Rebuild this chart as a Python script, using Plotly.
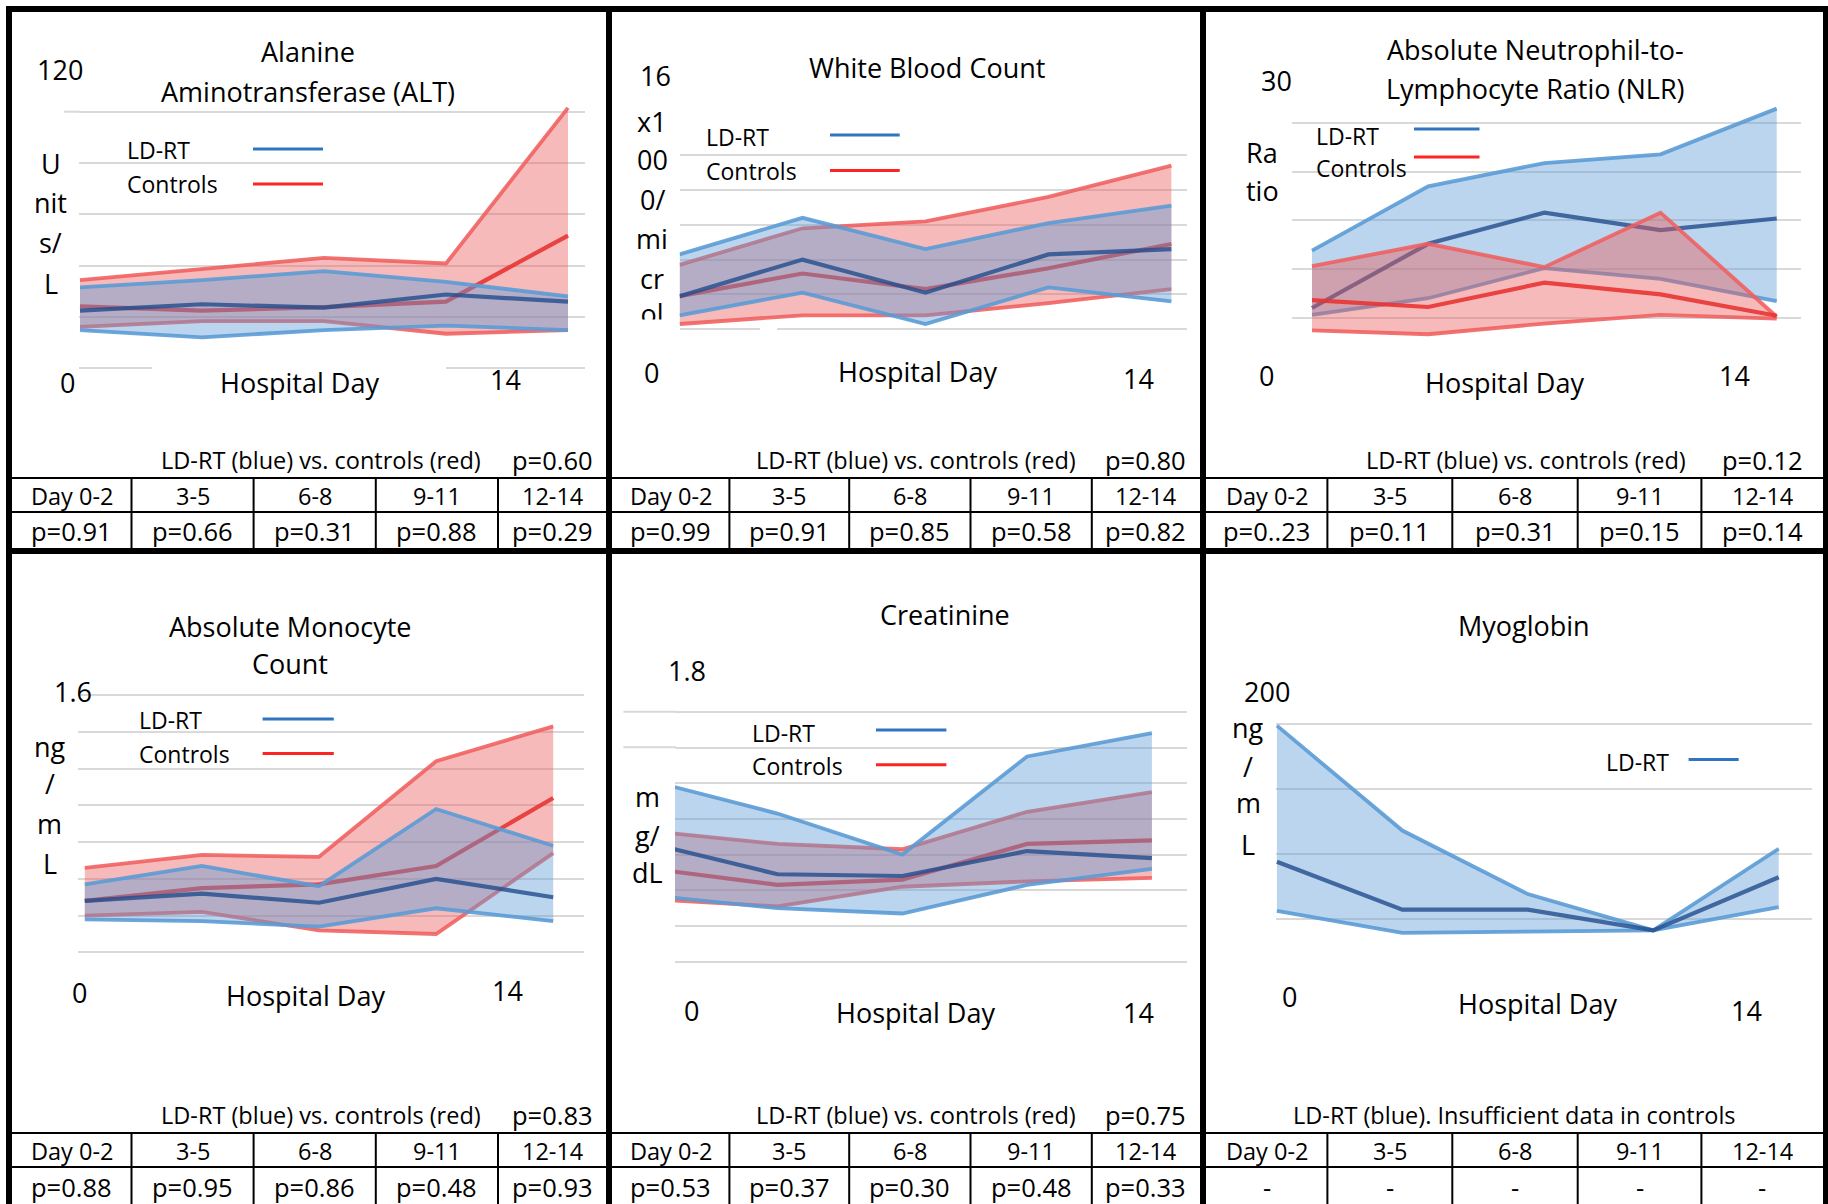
import plotly.graph_objects as go

W, H = 1828, 1204
FONT = "Open Sans"

# Hospital-day bins; summary points sit at the bin midpoints
day_bins = ["Day 0-2", "3-5", "6-8", "9-11", "12-14"]
day_mid = [1, 4, 7, 10, 13]

# Alanine aminotransferase (Units/L): lower / median / upper band per bin
alt_ldrt_lower = [14.8, 12.0, 14.8, 16.6, 14.8]
alt_ldrt_median = [22.4, 24.9, 23.6, 28.7, 25.9]
alt_ldrt_upper = [31.5, 34.3, 37.8, 33.6, 28.0]
alt_ctrl_lower = [16.1, 18.3, 18.3, 13.4, 14.8]
alt_ctrl_median = [24.1, 22.4, 23.8, 25.9, 51.7]
alt_ctrl_upper = [34.3, 38.8, 43.0, 40.8, 101.5]
alt_p_overall = "p=0.60"
alt_p_bins = ["p=0.91", "p=0.66", "p=0.31", "p=0.88", "p=0.29"]

# White blood count (x1000/microL)
wbc_ldrt_lower = [2.8, 4.1, 2.3, 4.4, 3.6]
wbc_ldrt_median = [3.9, 6.0, 4.1, 6.3, 6.6]
wbc_ldrt_upper = [6.3, 8.4, 6.6, 8.1, 9.1]
wbc_ctrl_lower = [2.3, 2.8, 2.8, 3.5, 4.3]
wbc_ctrl_median = [3.9, 5.2, 4.3, 5.5, 6.9]
wbc_ctrl_upper = [5.7, 7.8, 8.2, 9.6, 11.4]
wbc_p_overall = "p=0.80"
wbc_p_bins = ["p=0.99", "p=0.91", "p=0.85", "p=0.58", "p=0.82"]

# Absolute neutrophil-to-lymphocyte ratio
nlr_ldrt_lower = [5.3, 7.0, 10.1, 9.0, 6.7]
nlr_ldrt_median = [6.0, 12.6, 15.8, 14.0, 15.2]
nlr_ldrt_upper = [11.9, 18.5, 20.9, 21.8, 26.5]
nlr_ctrl_lower = [3.7, 3.3, 4.4, 5.3, 4.9]
nlr_ctrl_median = [6.8, 6.1, 8.6, 7.4, 5.2]
nlr_ctrl_upper = [10.3, 12.6, 10.2, 15.8, 5.1]
nlr_p_overall = "p=0.12"
nlr_p_bins = ["p=0..23", "p=0.11", "p=0.31", "p=0.15", "p=0.14"]

# Absolute monocyte count
mono_ldrt_lower = [0.38, 0.37, 0.34, 0.44, 0.37]
mono_ldrt_median = [0.48, 0.52, 0.47, 0.60, 0.50]
mono_ldrt_upper = [0.57, 0.67, 0.56, 0.98, 0.78]
mono_ctrl_lower = [0.40, 0.42, 0.32, 0.30, 0.74]
mono_ctrl_median = [0.48, 0.55, 0.57, 0.67, 1.04]
mono_ctrl_upper = [0.66, 0.73, 0.72, 1.24, 1.43]
mono_p_overall = "p=0.83"
mono_p_bins = ["p=0.88", "p=0.95", "p=0.86", "p=0.48", "p=0.93"]

# Creatinine (mg/dL)
cre_ldrt_lower = [0.57, 0.50, 0.47, 0.63, 0.72]
cre_ldrt_median = [0.86, 0.69, 0.68, 0.82, 0.78]
cre_ldrt_upper = [1.21, 1.03, 0.80, 1.35, 1.48]
cre_ctrl_lower = [0.55, 0.51, 0.62, 0.65, 0.67]
cre_ctrl_median = [0.72, 0.63, 0.66, 0.86, 0.88]
cre_ctrl_upper = [0.93, 0.86, 0.83, 1.04, 1.15]
cre_p_overall = "p=0.75"
cre_p_bins = ["p=0.53", "p=0.37", "p=0.30", "p=0.48", "p=0.33"]

# Myoglobin (ng/mL), LD-RT only
myo_ldrt_lower = [56, 39, 40, 41, 59]
myo_ldrt_median = [94, 57, 57, 41, 82]
myo_ldrt_upper = [199, 118, 69, 41, 104]
myo_p_bins = ["-", "-", "-", "-", "-"]

# ---- styling ----
BLUE_LINE = "rgba(91,155,213,0.9)"
BLUE_MED = "rgba(36,78,142,0.82)"
BLUE_FILL = "rgba(91,155,213,0.42)"
RED_LINE = "rgba(240,95,95,0.88)"
RED_MED = "rgba(232,52,52,0.9)"
RED_FILL = "rgba(235,90,90,0.42)"
GRID = "#d9d9d9"
LEG_BLUE = "#2f75c0"
LEG_RED = "#ff2424"

SUB = "LD-RT (blue) vs. controls (red)"

panels = [
    dict(ldrt=(alt_ldrt_lower, alt_ldrt_median, alt_ldrt_upper),
         ctrl=(alt_ctrl_lower, alt_ctrl_median, alt_ctrl_upper),
         blue_on_top=True, grid=[0, 20, 40, 60, 80, 100],
         box=(79, 585, 95, 378), xfirst=80, xlast=568, yref=(368.1, 0, 2.564)),
    dict(ldrt=(wbc_ldrt_lower, wbc_ldrt_median, wbc_ldrt_upper),
         ctrl=(wbc_ctrl_lower, wbc_ctrl_median, wbc_ctrl_upper),
         blue_on_top=True, grid=[2, 4, 6, 8, 10, 12],
         box=(679.6, 1186.7, 140, 336), xfirst=679.6, xlast=1171.4, yref=(329.2, 2, 17.4)),
    dict(ldrt=(nlr_ldrt_lower, nlr_ldrt_median, nlr_ldrt_upper),
         ctrl=(nlr_ctrl_lower, nlr_ctrl_median, nlr_ctrl_upper),
         blue_on_top=False, grid=[5, 10, 15, 20, 25],
         box=(1292, 1801, 95, 348), xfirst=1312, xlast=1776.7, yref=(317.7, 5, 9.725)),
    dict(ldrt=(mono_ldrt_lower, mono_ldrt_median, mono_ldrt_upper),
         ctrl=(mono_ctrl_lower, mono_ctrl_median, mono_ctrl_upper),
         blue_on_top=True, grid=[0.2, 0.4, 0.6, 0.8, 1.0, 1.2, 1.4, 1.6],
         box=(77.8, 583.5, 688, 962), xfirst=84.8, xlast=553.2, yref=(695.1, 1.6, 183.75)),
    dict(ldrt=(cre_ldrt_lower, cre_ldrt_median, cre_ldrt_upper),
         ctrl=(cre_ctrl_lower, cre_ctrl_median, cre_ctrl_upper),
         blue_on_top=True, grid=[0.2, 0.4, 0.6, 0.8, 1.0, 1.2, 1.4, 1.6],
         box=(675, 1186.7, 705, 968), xfirst=652.7, xlast=1151.9, yref=(711.8, 1.6, 178.5)),
    dict(ldrt=(myo_ldrt_lower, myo_ldrt_median, myo_ldrt_upper),
         ctrl=None,
         blue_on_top=True, grid=[50, 100, 150, 200],
         box=(1276, 1812, 712, 948), xfirst=1276.9, xlast=1778.7, yref=(724.3, 200, 1.296)),
]

fig = go.Figure()
layout = {}


def band_traces(series, axn, fill, edge, mid):
    lo, md, up = series
    xa, ya = f"x{axn}", f"y{axn}"
    poly_x = day_mid + day_mid[::-1]
    poly_y = list(up) + list(lo)[::-1]
    fig.add_trace(go.Scatter(x=poly_x, y=poly_y, mode="lines", fill="toself",
                             fillcolor=fill, line=dict(width=0), xaxis=xa, yaxis=ya,
                             hoverinfo="skip", showlegend=False))
    for vals, col, w in ((up, edge, 3.8), (lo, edge, 3.8), (md, mid, 4.2)):
        fig.add_trace(go.Scatter(x=day_mid, y=vals, mode="lines",
                                 line=dict(color=col, width=w), xaxis=xa, yaxis=ya,
                                 hoverinfo="skip", showlegend=False))


for i, p in enumerate(panels, start=1):
    left, right, top, bottom = p["box"]
    ppx = (p["xlast"] - p["xfirst"]) / (day_mid[-1] - day_mid[0])
    x0 = day_mid[0] + (left - p["xfirst"]) / ppx
    x1 = day_mid[-1] + (right - p["xlast"]) / ppx
    pref, vref, ppu = p["yref"]
    y_top = vref + (pref - top) / ppu
    y_bot = vref + (pref - bottom) / ppu
    sfx = "" if i == 1 else str(i)
    layout[f"xaxis{sfx}"] = dict(domain=[left / W, right / W], range=[x0, x1],
                                 visible=False, fixedrange=True, anchor=f"y{i}")
    layout[f"yaxis{sfx}"] = dict(domain=[1 - bottom / H, 1 - top / H], range=[y_bot, y_top],
                                 tickvals=p["grid"], showticklabels=False, ticks="",
                                 showgrid=True, gridcolor=GRID, gridwidth=2,
                                 zeroline=False, showline=False, fixedrange=True,
                                 anchor=f"x{i}")
    red = (p["ctrl"], RED_FILL, RED_LINE, RED_MED)
    blue = (p["ldrt"], BLUE_FILL, BLUE_LINE, BLUE_MED)
    order = [red, blue] if p["blue_on_top"] else [blue, red]
    for s, f, e, m in order:
        if s is not None:
            band_traces(s, i, f, e, m)

# clipped last line of the WBC axis title
layout["xaxis7"] = dict(domain=[630 / W, 675 / W], range=[0, 1], visible=False, anchor="y7")
layout["yaxis7"] = dict(domain=[1 - 319.5 / H, 1 - 280 / H], range=[0, 1], visible=False, anchor="x7")
fig.add_trace(go.Scatter(x=[0.489], y=[0.05], mode="text", text=["ol"],
                         textfont=dict(family=FONT, size=27, color="black"),
                         xaxis="x7", yaxis="y7", cliponaxis=True,
                         hoverinfo="skip", showlegend=False))

# ---- shapes ----
shapes = []


def rect(x0, y0, x1, y1, color, layer="above"):
    shapes.append(dict(type="rect", xref="paper", yref="paper", x0=x0 / W, x1=x1 / W,
                       y0=1 - y1 / H, y1=1 - y0 / H, fillcolor=color,
                       line=dict(width=0), layer=layer))


def hline(x0, x1, y, color, width, layer="above"):
    shapes.append(dict(type="line", xref="paper", yref="paper", x0=x0 / W, x1=x1 / W,
                       y0=1 - y / H, y1=1 - y / H, line=dict(color=color, width=width),
                       layer=layer))


def vline(x, y0, y1, color, width):
    shapes.append(dict(type="line", xref="paper", yref="paper", x0=x / W, x1=x / W,
                       y0=1 - y0 / H, y1=1 - y1 / H, line=dict(color=color, width=width),
                       layer="above"))


# gridline touch-ups around text boxes
rect(152, 362, 446, 375, "white")
rect(760, 324, 777, 334, "white")
hline(64, 80, 111.7, GRID, 2, layer="below")
hline(623.4, 676, 711.8, GRID, 2, layer="below")
hline(623.4, 676, 747.2, GRID, 2, layer="below")

# legend swatches
legends = [
    (253, 323, 149, LEG_BLUE), (253, 323, 184, LEG_RED),
    (830, 899.7, 135, LEG_BLUE), (830, 899.7, 170.6, LEG_RED),
    (1414, 1479.5, 129, LEG_BLUE), (1414, 1479.5, 157, LEG_RED),
    (262.6, 333.8, 719, LEG_BLUE), (262.6, 333.8, 753.5, LEG_RED),
    (876, 946.4, 730, LEG_BLUE), (876, 946.4, 764.8, LEG_RED),
    (1688.6, 1738.7, 759.5, LEG_BLUE),
]
for a, b, y, c in legends:
    hline(a, b, y, c, 3)

# tables under each chart
col_edges = [
    [12, 131.5, 253.6, 375.8, 498, 606],
    [612, 729.4, 849.2, 970.5, 1091.8, 1200],
    [1206, 1327.4, 1452.3, 1577.7, 1701.4, 1823],
]
row_lines = [(478, 512, 548), (1133, 1167, 1204)]
for r, (t, s, b) in enumerate(row_lines):
    for c, edges in enumerate(col_edges):
        hline(edges[0], edges[-1], t, "black", 2)
        hline(edges[0], edges[-1], s, "black", 2)
        for x in edges[1:-1]:
            vline(x, t, b, "black", 2)

# heavy frame and dividers
rect(6, 6, 1828, 12, "black")
rect(6, 6, 12, 1204, "black")
rect(1823, 6, 1828, 1204, "black")
rect(606, 6, 612, 1204, "black")
rect(1200, 6, 1206, 1204, "black")
rect(6, 548, 1828, 554, "black")

# ---- text ----
ann = []


def txt(x, y, s, size, anchor="center"):
    ann.append(dict(x=x / W, y=1 - y / H, xref="paper", yref="paper", text=s,
                    showarrow=False, xanchor=anchor, yanchor="middle",
                    font=dict(family=FONT, size=size, color="black")))


T, A, L = 27, 27, 23

# ALT
txt(308, 51.8, "Alanine", T)
txt(308, 91, "Aminotransferase (ALT)", T)
txt(60.3, 69.6, "120", A)
for s, y in (("U", 163.5), ("nit", 202.8), ("s/", 242.8), ("L", 283.8)):
    txt(50.6, y, s, A)
txt(125, 150, "LD-RT", L, "left")
txt(125, 184, "Controls", L, "left")
txt(67, 382.7, "0", A)
txt(299.5, 382.7, "Hospital Day", A)
txt(505.7, 380, "14", A)

# WBC
txt(926.5, 67.8, "White Blood Count", T)
txt(655.5, 75, "16", A)
for s, y in (("x1", 121.4), ("00", 160), ("0/", 200), ("mi", 238.5), ("cr", 278.5)):
    txt(652, y, s, A)
txt(703.7, 137.4, "LD-RT", L, "left")
txt(703.7, 170.6, "Controls", L, "left")
txt(651.7, 372, "0", A)
txt(917, 371.3, "Hospital Day", A)
txt(1138, 379, "14", A)

# NLR
txt(1535.6, 50, "Absolute Neutrophil-to-", T)
txt(1535.6, 89, "Lymphocyte Ratio (NLR)", T)
txt(1276, 80.3, "30", A)
txt(1262, 152.8, "Ra", A)
txt(1262, 190.3, "tio", A)
txt(1314, 135.7, "LD-RT", L, "left")
txt(1314, 167.8, "Controls", L, "left")
txt(1266, 375.6, "0", A)
txt(1504.4, 382, "Hospital Day", A)
txt(1734.7, 375.6, "14", A)

# Monocytes
txt(289.8, 626.3, "Absolute Monocyte", T)
txt(289.8, 663.4, "Count", T)
txt(73, 691.8, "1.6", A)
for s, y in (("ng", 746), ("/", 783.5), ("m", 823), ("L", 863.6)):
    txt(49.8, y, s, A)
txt(137, 720, "LD-RT", L, "left")
txt(137, 753.5, "Controls", L, "left")
txt(79.7, 992.9, "0", A)
txt(305.4, 995.4, "Hospital Day", A)
txt(507.6, 990, "14", A)

# Creatinine
txt(944.8, 614.6, "Creatinine", T)
txt(687.3, 670, "1.8", A)
for s, y in (("m", 796), ("g/", 835.6), ("dL", 872)):
    txt(647, y, s, A)
txt(749.7, 732.6, "LD-RT", L, "left")
txt(749.7, 765.6, "Controls", L, "left")
txt(691, 1010.8, "0", A)
txt(915, 1012.9, "Hospital Day", A)
txt(1138.9, 1012.9, "14", A)

# Myoglobin
txt(1524.4, 625, "Myoglobin", T)
txt(1267.3, 691, "200", A)
for s, y in (("ng", 727.2), ("/", 766.8), ("m", 802.3), ("L", 844)):
    txt(1248, y, s, A)
txt(1603.5, 762, "LD-RT", L, "left")
txt(1289, 996, "0", A)
txt(1537.6, 1003.7, "Hospital Day", A)
txt(1746.7, 1010.8, "14", A)

# table contents
tables = [
    (0, 0, SUB, alt_p_overall, alt_p_bins, 321),
    (0, 1, SUB, wbc_p_overall, wbc_p_bins, 915.7),
    (0, 2, SUB, nlr_p_overall, nlr_p_bins, 1526.4),
    (1, 0, SUB, mono_p_overall, mono_p_bins, 321),
    (1, 1, SUB, cre_p_overall, cre_p_bins, 915.7),
    (1, 2, "LD-RT (blue). Insufficient data in controls", None, myo_p_bins, 1514.4),
]
for r, c, sub, pov, pb, subx in tables:
    t, s, b = row_lines[r]
    edges = col_edges[c]
    centers = [(edges[k] + edges[k + 1]) / 2 for k in range(5)]
    ysub = t - 18
    txt(subx, ysub, sub, 23.5)
    if pov:
        txt(centers[-1], ysub, pov, 25.5)
    for k in range(5):
        txt(centers[k], (t + s) / 2 + 1, day_bins[k], 23.5)
        txt(centers[k], (s + b) / 2 + 1, pb[k], 25.5)

fig.update_layout(
    width=W, height=H, autosize=False,
    margin=dict(l=0, r=0, t=0, b=0, pad=0),
    paper_bgcolor="white", plot_bgcolor="rgba(0,0,0,0)",
    showlegend=False, hovermode=False,
    shapes=shapes, annotations=ann,
    font=dict(family=FONT),
    **layout,
)

fig.write_html("out.html", config={"displayModeBar": False})
